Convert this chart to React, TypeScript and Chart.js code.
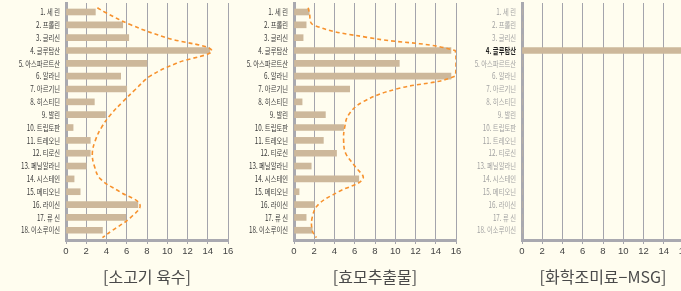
import React, { useEffect, useRef } from "react";
import { Chart, registerables } from "chart.js";

Chart.register(...registerables);

const aminoLabels = [
  "1. 세 린", "2. 프롤린", "3. 글리신", "4. 글루탐산", "5. 아스파르트산", "6. 알라닌",
  "7. 아르기닌", "8. 히스티딘", "9. 발린", "10. 트립토판", "11. 트레오닌", "12. 티로신",
  "13. 페닐알라닌", "14. 시스테인", "15. 메티오닌", "16. 라이신", "17. 류 신", "18. 이소루이신",
];

const beefValues = [2.9, 5.6, 6.2, 14.2, 8.0, 5.4, 6.0, 2.8, 3.9, 0.7, 2.4, 2.4, 2.0, 0.8, 1.4, 7.1, 5.9, 3.6];
const yeastValues = [1.5, 1.2, 0.9, 15.5, 10.4, 15.5, 5.5, 0.8, 3.1, 4.9, 2.9, 4.2, 1.7, 6.4, 0.5, 2.0, 1.2, 1.8];
const msgValues = [0, 0, 0, 16, 0, 0, 0, 0, 0, 0, 0, 0, 0, 0, 0, 0, 0, 0];

// dashed trend curves: row position (category index) and value
const curveRows = [-0.33, 0, 1, 2, 3, 4, 5, 6, 7, 8, 9, 10, 11, 12, 13, 14, 15, 16, 17, 17.58];
const beefCurve = [3.1, 3.8, 6.4, 9.9, 14.4, 10.9, 8.3, 6.9, 5.6, 4.4, 3.5, 2.9, 2.6, 2.8, 3.4, 5.3, 7.3, 6.4, 4.6, 3.6];
const yeastCurve = [1.4, 1.5, 1.9, 7.4, 15.9, 16.0, 15.9, 10.1, 6.8, 5.4, 5.0, 4.9, 5.1, 6.0, 6.8, 4.4, 2.4, 1.8, 1.8, 2.2];

const xMin = 0;
const xMax = 16;
const xStep = 2;

const titles = ["[소고기 육수]", "[효모추출물]", "[화학조미료−MSG]"];

const BG = "#FFFDEF";
const BAR = "#CDB89B";
const GRID = "#A4A4AC";
const AXIS = "#A9A9B0";
const ORANGE = "#F7922E";

const rowLabelPlugin = {
  id: "rowLabels",
  afterDraw(chart: any, _args: any, opts: any) {
    const { ctx, chartArea, scales } = chart;
    const y = scales.y;
    ctx.save();
    ctx.textAlign = "right";
    ctx.textBaseline = "middle";
    aminoLabels.forEach((lab, i) => {
      const py = y.getPixelForValue(i);
      const hl = opts.highlight === i;
      ctx.font = `${hl ? "bold " : ""}8.5px "Noto Sans CJK KR"`;
      ctx.fillStyle = opts.dim ? (hl ? "#222222" : "#A2A2A2") : "#383838";
      ctx.save();
      ctx.translate(chartArea.left - 6, py);
      ctx.scale(0.74, 1);
      ctx.fillText(lab, 0, 0);
      ctx.restore();
    });
    ctx.font = '16px "Noto Sans CJK KR"';
    ctx.textAlign = "center";
    ctx.fillStyle = "#4A4A4A";
    ctx.fillText(opts.title, (chartArea.left + chartArea.right) / 2, 277);
    ctx.restore();
  },
};

type PanelProps = {
  values: number[];
  curve?: number[];
  title: string;
  dim?: boolean;
  highlight?: number;
  left: number;
};

function Panel({ values, curve, title, dim, highlight, left }: PanelProps) {
  const ref = useRef<HTMLCanvasElement>(null);
  useEffect(() => {
    if (!ref.current) return;
    const datasets: any[] = [];
    if (curve) {
      datasets.push({
        type: "line",
        data: curveRows.map((r, i) => ({ x: curve[i], y: r })),
        borderColor: ORANGE,
        borderWidth: 1.6,
        borderDash: [4, 3],
        pointRadius: 0,
        tension: 0.4,
        fill: false,
        order: 0,
      });
    }
    datasets.push({
      type: "bar",
      data: values.map((v, i) => ({ x: v, y: i })),
      backgroundColor: BAR,
      barThickness: 6,
      borderWidth: 0,
      order: 1,
    });
    const chart = new Chart(ref.current, {
      type: "bar",
      data: { datasets },
      plugins: [rowLabelPlugin as any],
      options: {
        indexAxis: "y",
        responsive: false,
        animation: false,
        events: [],
        layout: { padding: { top: 3, right: 8, left: 0, bottom: 0 } },
        plugins: {
          legend: { display: false },
          tooltip: { enabled: false },
          rowLabels: { title, dim, highlight },
        } as any,
        scales: {
          x: {
            type: "linear",
            min: xMin,
            max: xMax,
            offset: false,
            ticks: {
              stepSize: xStep,
              color: "#444444",
              font: { family: "Liberation Sans", size: 9.5 },
              padding: 2,
            },
            grid: { color: GRID, lineWidth: 1, tickLength: 4, drawTicks: true, offset: false },
            border: { display: true, width: 3, color: AXIS },
            afterFit: (s: any) => {
              s.height = 51;
            },
          },
          y: {
            type: "linear",
            reverse: true,
            min: -0.7,
            max: 17.76,
            offset: false,
            afterBuildTicks: (s: any) => {
              s.ticks = aminoLabels.map((_, i) => ({ value: i }));
            },
            ticks: { display: false },
            grid: { display: false, offset: false },
            border: { display: true, width: 3, color: AXIS },
            afterFit: (s: any) => {
              s.width = 66;
            },
            z: 1,
          },
        } as any,
      },
    } as any);
    return () => chart.destroy();
  }, []);
  return (
    <canvas
      ref={ref}
      width={236}
      height={291}
      style={{ position: "absolute", left, top: 0, width: 236, height: 291 }}
    />
  );
}

export default function App() {
  return (
    <div
      style={{
        position: "fixed",
        left: 0,
        top: 0,
        width: 681,
        height: 291,
        background: BG,
        overflow: "hidden",
      }}
    >
      <Panel values={beefValues} curve={beefCurve} title={titles[0]} left={0} />
      <Panel values={yeastValues} curve={yeastCurve} title={titles[1]} left={228} />
      <Panel values={msgValues} title={titles[2]} dim highlight={3} left={456} />
    </div>
  );
}
